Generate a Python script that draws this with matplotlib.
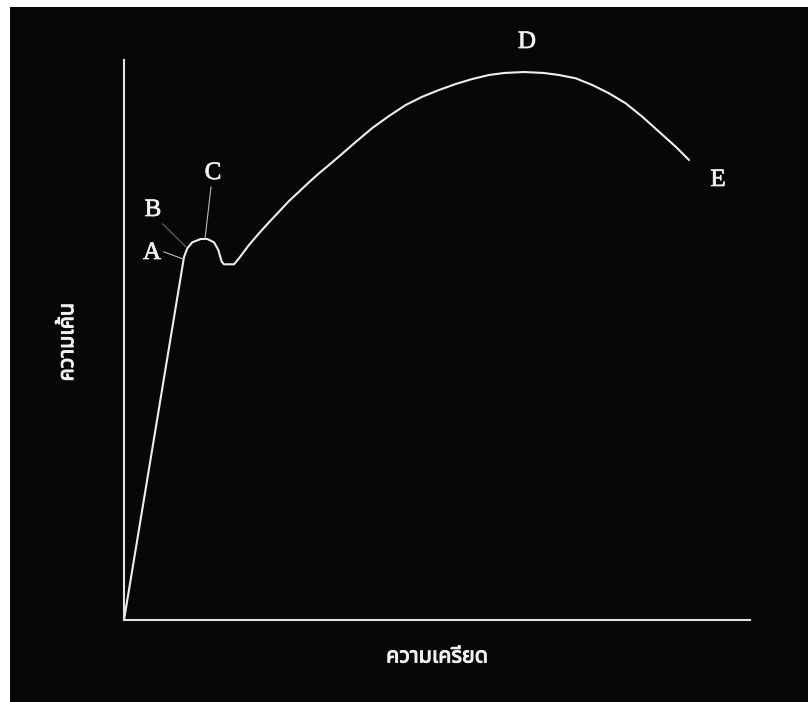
import matplotlib
matplotlib.use('Agg')
import matplotlib.pyplot as plt
import matplotlib.patheffects as pe
from matplotlib.patches import Rectangle

# stress-strain curve (arbitrary units)
strain = [0, 60, 63.3, 68.3, 76.7, 83.3, 90, 94.3, 97.7, 100, 110,
          115, 125, 135, 145, 155, 165, 175, 185, 195, 205, 215, 231.7,
          248.3, 265, 281.7, 298.3, 315, 331.7, 348.3, 365, 380, 400, 420,
          435, 451.7, 468.3, 485, 501.7, 518.3, 535, 551.7, 565]
stress = [0, 363, 371.7, 377.7, 381, 381, 377.7, 370, 358.3, 355.7, 355.7,
          361.7, 375, 386.7, 397.7, 408.3, 419, 428.3, 437.7, 446.7, 455, 463.5, 478,
          492, 504, 515, 523.3, 530, 536, 541, 545, 547, 548, 547,
          545, 541.7, 535, 526.7, 516.7, 503.3, 488.3, 473.3, 460]

xlabel = 'ความเครียด'
ylabel = 'ความเค้น'

fig = plt.figure(figsize=(8.08, 7.02), dpi=100)
fig.patch.set_facecolor('white')
fig.add_artist(Rectangle((10/808, 0), 1, 1 - 7/702, transform=fig.transFigure,
                         facecolor='#070707', edgecolor='none', zorder=0))

ax = fig.add_axes([124/808, 82/702, 626/808, 560/702])
ax.set_facecolor('none')
ax.set_xlim(0, 626)
ax.set_ylim(0, 560)
for s in ['top', 'right']:
    ax.spines[s].set_visible(False)
for s in ['left', 'bottom']:
    ax.spines[s].set_color('#e2e2e2')
    ax.spines[s].set_linewidth(1.5)
ax.set_xticks([])
ax.set_yticks([])

ax.plot(strain, stress, color='#eeeeee', lw=1.5, clip_on=False,
        solid_joinstyle='round', solid_capstyle='round')

bold = [pe.withStroke(linewidth=0.7, foreground='#f2f2f2')]
thai = {'family': ['Noto Sans Thai', 'DejaVu Sans'], 'size': 15.5,
        'color': '#f2f2f2'}
ax.set_xlabel(xlabel, fontdict=thai)
ax.xaxis.set_label_coords(0.5, -0.066)
ax.xaxis.label.set_va('center')
ax.xaxis.label.set_path_effects(bold)
ax.set_ylabel(ylabel, fontdict=thai)
ax.yaxis.set_label_coords(-0.09, 0.496)
ax.yaxis.label.set_va('center')
ax.yaxis.label.set_path_effects(bold)

# point labels and their leader lines
lab = dict(family='Liberation Serif', fontsize=18, color='#f2f2f2',
           ha='center', va='center',
           path_effects=[pe.withStroke(linewidth=0.5, foreground='#f2f2f2')])
lead = dict(arrowstyle='-', color='#bbbbbb', lw=0.8, shrinkA=0, shrinkB=0)
ax.annotate('A', xy=(59, 361), xytext=(28, 367), **lab,
            arrowprops=dict(lead, relpos=(1.0, 0.6)))
ax.annotate('B', xy=(62, 373), xytext=(29, 410), **lab,
            arrowprops=dict(lead, color='#6a6a6a', relpos=(0.9, 0.0)))
ax.annotate('C', xy=(81, 381), xytext=(89, 447), **lab,
            arrowprops=dict(lead, relpos=(0.4, 0.0)))
ax.text(403, 578, 'D', **lab)
ax.text(594, 440, 'E', **lab)

plt.savefig('out.png', dpi=100, facecolor=fig.get_facecolor())
